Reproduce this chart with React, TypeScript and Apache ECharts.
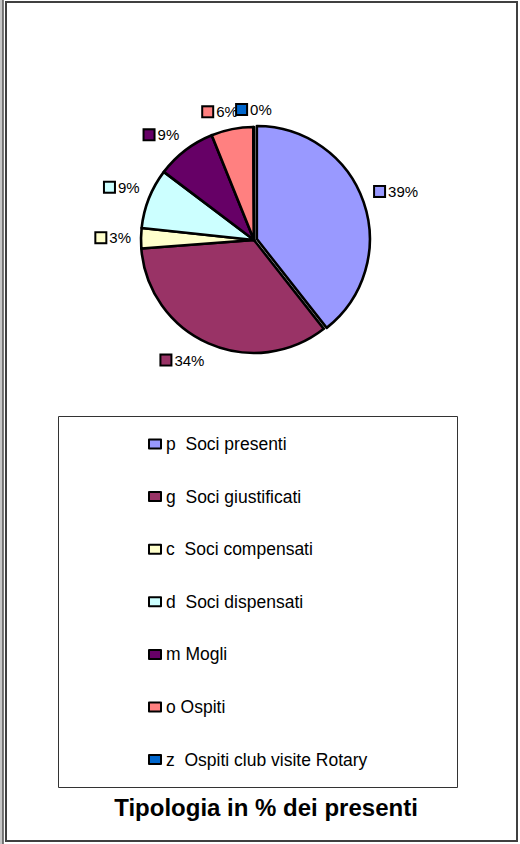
import React, { useEffect, useRef } from "react";
import * as echarts from "echarts";

const CATEGORIES = [
  "p  Soci presenti",
  "g  Soci giustificati",
  "c  Soci compensati",
  "d  Soci dispensati",
  "m Mogli",
  "o Ospiti",
  "z  Ospiti club visite Rotary",
];
const VALUES = [39.4, 34.4, 2.9, 8.6, 8.6, 6.0, 0.1];
const COLORS = ["#9999FF", "#993366", "#FFFFCC", "#CCFFFF", "#660066", "#FF8080", "#0066CC"];
const TITLE = "Tipologia in % dei presenti";

const FONT = "'Liberation Sans', Arial, sans-serif";
const PIE_CX = 254;
const PIE_CY = 240;
const PIE_R = 113;

export default function App() {
  const ref = useRef<HTMLDivElement>(null);
  useEffect(() => {
    if (!ref.current) return;
    const chart = echarts.init(ref.current, undefined, { renderer: "svg" });
    const total = VALUES.reduce((a, b) => a + b, 0);
    const mids: number[] = [];
    let acc = 0;
    VALUES.forEach((v) => {
      mids.push(((acc + v / 2) / total) * Math.PI * 2);
      acc += v;
    });
    const rich: Record<string, any> = {
      t: { fontSize: 15, fontFamily: FONT, color: "#000", padding: [0, 0, 0, 4] },
    };
    COLORS.forEach((c, i) => {
      rich["s" + i] = { width: 9, height: 9, backgroundColor: c, borderColor: "#000", borderWidth: 2 };
    });
    const clamp = (v: number) => Math.max(-1, Math.min(1, v * 3));
    chart.setOption({
      animation: false,
      backgroundColor: "#fff",
      title: {
        text: TITLE,
        left: 261,
        top: 790,
        textAlign: "center",
        textStyle: { fontSize: 24, fontWeight: "bold", color: "#000", fontFamily: FONT },
      },
      legend: {
        orient: "vertical",
        left: 148,
        top: 434,
        padding: 0,
        icon: "rect",
        itemWidth: 12,
        itemHeight: 9,
        itemGap: 32.6,
        selectedMode: false,
        itemStyle: { borderColor: "#000", borderWidth: 2 },
        textStyle: { fontSize: 17.5, lineHeight: 20, color: "#000", fontFamily: FONT },
        data: CATEGORIES,
      },
      graphic: [
        { type: "rect", shape: { x: 0, y: 0, width: 2.5, height: 844 }, style: { fill: "#c8c8c8" }, silent: true },
        { type: "line", shape: { x1: 3, y1: 0, x2: 3, y2: 844 }, style: { stroke: "#000", lineWidth: 1 }, silent: true },
        {
          type: "rect",
          shape: { x: 6, y: 2, width: 511, height: 839 },
          style: { fill: "none", stroke: "#404040", lineWidth: 2 },
          silent: true,
        },
        {
          type: "rect",
          shape: { x: 58.5, y: 416.5, width: 399, height: 371 },
          style: { fill: "none", stroke: "#333", lineWidth: 1 },
          silent: true,
        },
      ],
      series: [
        {
          type: "pie",
          center: [PIE_CX, PIE_CY],
          radius: PIE_R,
          startAngle: 90,
          clockwise: true,
          avoidLabelOverlap: false,
          percentPrecision: 0,
          selectedMode: "single",
          selectedOffset: 3,
          emphasis: { disabled: true },
          itemStyle: { borderColor: "#000", borderWidth: 2.6 },
          labelLine: { show: false },
          label: {
            show: true,
            position: "outside",
            formatter: (p: any) => `{s${p.dataIndex}|}{t|${p.percent}%}`,
            rich,
          },
          labelLayout: (params: any) => {
            const i = params.dataIndex;
            const th = mids[i];
            const ux = Math.sin(th);
            const uy = -Math.cos(th);
            const rr = PIE_R + 10;
            const px = PIE_CX + ux * rr;
            const py = PIE_CY + uy * rr;
            const r = params.labelRect;
            const w = r.width;
            const h = r.height;
            const tx = px + (clamp(ux) * w) / 2;
            const ty = py + (clamp(uy) * h) / 2;
            return {
              dx: tx - (r.x + w / 2),
              dy: ty - (r.y + h / 2),
            };
          },
          data: CATEGORIES.map((name, i) => ({
            name,
            value: VALUES[i],
            selected: i === 0,
            itemStyle: { color: COLORS[i] },
          })),
        },
      ],
    });
    return () => chart.dispose();
  }, []);
  return (
    <div
      ref={ref}
      style={{ position: "fixed", left: 0, top: 0, width: 520, height: 844 }}
    />
  );
}
